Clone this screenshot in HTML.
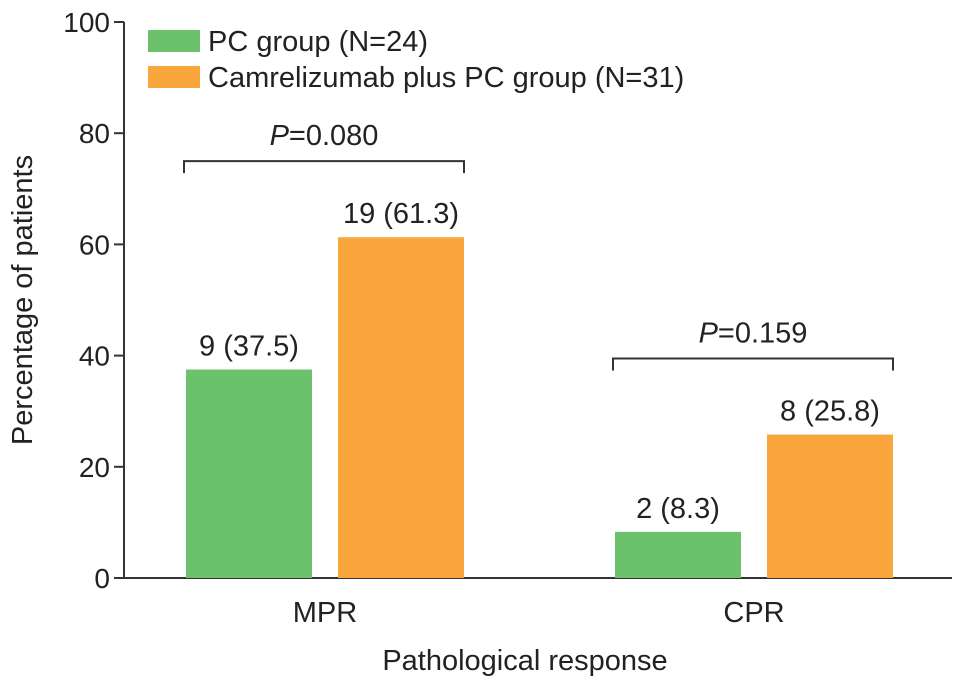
<!DOCTYPE html>
<html><head><meta charset="utf-8"><style>
html,body{margin:0;padding:0;background:#fff;}
svg text{font-family:"Liberation Sans",Arial,sans-serif;fill:#222;}
</style></head><body>
<svg id="chart" width="969" height="690" xmlns="http://www.w3.org/2000/svg">
<g id="axes"></g><g id="bars"></g><g id="labels"></g>
</svg>
<script>
const categories = ["MPR","CPR"];
const pcValues = [37.5, 8.3];
const camValues = [61.3, 25.8];
const pcLabels = ["9 (37.5)","2 (8.3)"];
const camLabels = ["19 (61.3)","8 (25.8)"];
const pValues = ["0.080","0.159"];
const yTicks = [0,20,40,60,80,100];

const svg = document.getElementById('chart');
const NS = 'http://www.w3.org/2000/svg';
const x0 = 124, yBase = 578, yTop = 22;
function y(v){ return yBase - (v/100)*(yBase-yTop); }
const groupStart = [186, 615], barW = 126, gap = 26;
function mk(tag, attrs, parent, text){
  const e = document.createElementNS(NS, tag);
  for (const k in attrs) e.setAttribute(k, attrs[k]);
  if (text !== undefined) e.textContent = text;
  (parent||svg).appendChild(e); return e;
}
const axes = document.getElementById('axes');
const yl = mk('line',{x1:x0,y1:yTop,x2:x0,y2:yBase,stroke:'#333','stroke-width':2},axes);
 
const xl = mk('line',{x1:x0-1,y1:yBase,x2:952,y2:yBase,stroke:'#333','stroke-width':2},axes);
 
yTicks.forEach(t=>{
  mk('line',{x1:x0-10,y1:y(t),x2:x0,y2:y(t),stroke:'#333','stroke-width':2},axes);
  const tl = mk('text',{x:x0-14,y:y(t)+10,'text-anchor':'end','font-size':28},axes,String(t));
   
});
const yt = mk('text',{x:32,y:300,'text-anchor':'middle','font-size':29,transform:'rotate(-90 32 300)'},axes,'Percentage of patients');
 
const xt = mk('text',{x:525,y:670,'text-anchor':'middle','font-size':29},axes,'Pathological response');
 

const bars = document.getElementById('bars'), labels = document.getElementById('labels');
categories.forEach((c,i)=>{
  const gx = groupStart[i];
  const xg = gx, xo = gx + barW + gap;
  const b1 = mk('rect',{x:xg,y:y(pcValues[i]),width:barW,height:yBase-y(pcValues[i]),fill:'#6cc16c'},bars);
   
  const b2 = mk('rect',{x:xo,y:y(camValues[i]),width:barW,height:yBase-y(camValues[i]),fill:'#f9a73c'},bars);
   
  const l1 = mk('text',{x:xg+barW/2,y:y(pcValues[i])-14,'text-anchor':'middle','font-size':29},labels,pcLabels[i]);
   
  const l2 = mk('text',{x:xo+barW/2,y:y(camValues[i])-14,'text-anchor':'middle','font-size':29},labels,camLabels[i]);
   
  const cl = mk('text',{x:xg+barW+gap/2,y:622,'text-anchor':'middle','font-size':29},labels,c);
   
  const top = Math.max(pcValues[i],camValues[i]);
  const by = y(top) - 76, bx1 = xg-2, bx2 = xo+barW;
  const br = mk('path',{d:`M${bx1} ${by+12} V${by} H${bx2} V${by+12}`,fill:'none',stroke:'#333','stroke-width':2},labels);
   
  const pt = mk('text',{x:(bx1+bx2)/2,y:by-16,'text-anchor':'middle','font-size':29},labels);
   
  mk('tspan',{'font-style':'italic'},pt,'P'); mk('tspan',{},pt,'='+pValues[i]);
});
const leg = [['#6cc16c','PC group (N=24)',30],['#f9a73c','Camrelizumab plus PC group (N=31)',66]];
leg.forEach(l=>{
  const g = mk('g',{});
   
  mk('rect',{x:148,y:l[2],width:52,height:22,fill:l[0]},g);
  mk('text',{x:208,y:l[2]+21,'font-size':29},g,l[1]);
});
</script>
</body></html>
